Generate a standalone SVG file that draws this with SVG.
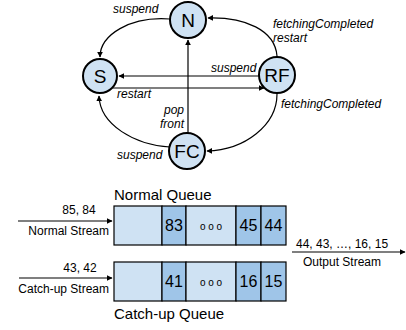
<svg xmlns="http://www.w3.org/2000/svg" width="406" height="330" viewBox="0 0 406 330">
<style>
.st{fill:#cfe2f3;stroke:#000;stroke-width:2}
.sl{font-family:"Liberation Sans",Arial,sans-serif;font-size:19px;fill:#000}
.lb{font-family:"Liberation Sans",Arial,sans-serif;font-size:12px;font-style:italic;fill:#000}
.t{font-family:"Liberation Sans",Arial,sans-serif;fill:#000}
.e{fill:none;stroke:#000;stroke-width:1.2}
.lc{fill:#cfe2f3;stroke:#000;stroke-width:1.2}
.dc{fill:#9fc5e8;stroke:#000;stroke-width:1.2}
</style>
<defs>
<marker id="ah" viewBox="0 0 10 10" refX="9" refY="5" markerWidth="6" markerHeight="6" markerUnits="userSpaceOnUse" orient="auto">
<path d="M0,0 L10,5 L0,10 z" fill="#000"/>
</marker>
</defs>
<g id="connectors">
<path class="e" d="M170,19 C130,16 100,35 100,57" marker-end="url(#ah)"/>
<path class="e" d="M277,56 C275,30 245,17 208,18" marker-end="url(#ah)"/>
<path class="e" d="M277,94 C277,125 245,150 207,151" marker-end="url(#ah)"/>
<path class="e" d="M170,147 C135,145 100,125 99,96" marker-end="url(#ah)"/>
<path class="e" d="M259,76 L119,76" marker-end="url(#ah)"/>
<path class="e" d="M113,88 L264,88" marker-end="url(#ah)"/>
<path class="e" d="M188,133 L188,40" marker-end="url(#ah)"/>
<path class="e" d="M18,221 L112,221" marker-end="url(#ah)"/>
<path class="e" d="M19,278 L112,278" marker-end="url(#ah)"/>
<path class="e" d="M292,252 L405,252" marker-end="url(#ah)"/>
</g>
<g id="labels">
<text class="lb" x="113" y="13">suspend</text>
<text class="lb" x="273" y="28">fetchingCompleted</text>
<text class="lb" x="273" y="42">restart</text>
<text class="lb" x="211" y="72">suspend</text>
<text class="lb" x="117" y="98">restart</text>
<text class="lb" x="281" y="108">fetchingCompleted</text>
<text class="lb" x="184" y="114" text-anchor="end">pop</text>
<text class="lb" x="184" y="128" text-anchor="end">front</text>
<text class="lb" x="117" y="159">suspend</text>
</g>
<g id="N"><circle class="st" cx="188" cy="20" r="18"/><text class="sl" x="188" y="27" text-anchor="middle">N</text></g>
<g id="S"><circle class="st" cx="100" cy="76" r="17"/><text class="sl" x="100" y="83" text-anchor="middle">S</text></g>
<g id="RF"><circle class="st" cx="277" cy="75" r="18"/><text class="sl" x="277" y="82" text-anchor="middle">RF</text></g>
<g id="FC"><circle class="st" cx="187" cy="151" r="18"/><text class="sl" x="187" y="158" text-anchor="middle">FC</text></g>
<g id="normal-queue">
<text class="t" x="114" y="200" font-size="15">Normal Queue</text>
<rect class="lc" x="114" y="206" width="48" height="39"/>
<rect class="dc" x="162" y="206" width="24" height="39"/>
<rect class="lc" x="186" y="206" width="50" height="39"/>
<rect class="dc" x="236" y="206" width="25" height="39"/>
<rect class="dc" x="261" y="206" width="25" height="39"/>
<text class="t" font-size="16" text-anchor="middle" x="174" y="231">83</text>
<text class="t" font-size="10" text-anchor="middle" x="211" y="230">o o o</text>
<text class="t" font-size="16" text-anchor="middle" x="248.5" y="231">45</text>
<text class="t" font-size="16" text-anchor="middle" x="273.5" y="231">44</text>
</g>
<g id="catchup-queue">
<rect class="lc" x="114" y="262" width="48" height="39"/>
<rect class="dc" x="162" y="262" width="24" height="39"/>
<rect class="lc" x="186" y="262" width="50" height="39"/>
<rect class="dc" x="236" y="262" width="25" height="39"/>
<rect class="dc" x="261" y="262" width="25" height="39"/>
<text class="t" font-size="16" text-anchor="middle" x="174" y="287">41</text>
<text class="t" font-size="10" text-anchor="middle" x="211" y="286">o o o</text>
<text class="t" font-size="16" text-anchor="middle" x="248.5" y="287">16</text>
<text class="t" font-size="16" text-anchor="middle" x="273.5" y="287">15</text>
<text class="t" x="114" y="319" font-size="15">Catch-up Queue</text>
</g>
<g id="streams">
<text class="t" font-size="12" text-anchor="middle" x="79" y="214">85, 84</text>
<text class="t" font-size="12" text-anchor="end" x="109" y="235">Normal Stream</text>
<text class="t" font-size="12" text-anchor="middle" x="80" y="272">43, 42</text>
<text class="t" font-size="12" text-anchor="end" x="109" y="293">Catch-up Stream</text>
<text class="t" font-size="12" x="296" y="248">44, 43, …, 16, 15</text>
<text class="t" font-size="12" text-anchor="middle" x="342" y="266">Output Stream</text>
</g>
</svg>
